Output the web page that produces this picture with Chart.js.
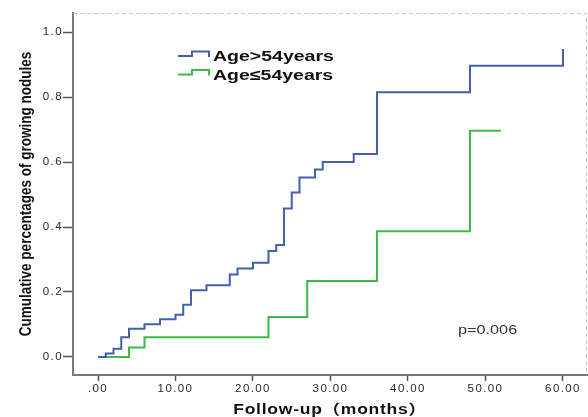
<!DOCTYPE html>
<html>
<head>
<meta charset="utf-8">
<script src="https://cdn.jsdelivr.net/npm/chart.js@4/dist/chart.umd.min.js"></script>
<style>
html,body{margin:0;padding:0;background:#fff;overflow:hidden}
#wrap{position:relative;width:588px;height:417px}
</style>
</head>
<body>
<div id="wrap"><canvas id="c" width="588" height="417"></canvas></div>
<script>
// ---- data ----
const seriesNames = ['Age>54years', 'Age\u226454years'];
const olderTimes  = [0, 1, 2, 3, 4, 6, 8, 10, 11, 12, 14, 17, 18, 20, 22, 23, 24, 25, 26, 28, 29, 33, 36, 48, 60];
const olderValues = [0, 0.011, 0.025, 0.061, 0.087, 0.101, 0.116, 0.130, 0.161, 0.205, 0.221, 0.254, 0.272, 0.290, 0.326, 0.345, 0.457, 0.506, 0.552, 0.577, 0.600, 0.625, 0.815, 0.896, 0.948];
const youngerTimes  = [0, 4, 6, 22, 27, 36, 48, 52];
const youngerValues = [0, 0.029, 0.061, 0.123, 0.234, 0.387, 0.696, 0.696];
const xTicks = [0, 10, 20, 30, 40, 50, 60];
const yTicks = [0, 0.2, 0.4, 0.6, 0.8, 1.0];
const xTitle = 'Follow-up\uFF08months\uFF09';
const yTitle = 'Cumulative percentages of growing nodules';
const pText = 'p=0.006';

const colors = ['#4160ad', '#3dba47'];
const toPoints = (ts, vs) => ts.map((t, i) => ({x: t, y: vs[i]}));
const SANS = '"Liberation Sans", Arial, "Noto Sans CJK SC", sans-serif';

function stretchedText(ctx, text, x, y, font, sx, align, color, spacing) {
  ctx.save();
  ctx.translate(x, y);
  ctx.scale(sx, 1);
  ctx.letterSpacing = spacing || '0px';
  ctx.font = font;
  ctx.fillStyle = color;
  ctx.textAlign = align;
  ctx.textBaseline = 'alphabetic';
  ctx.fillText(text, 0, 0);
  ctx.restore();
}

const decor = {
  id: 'decor',
  beforeDraw(chart) {
    chart.ctx.letterSpacing = '1.4px';
  },
  afterDraw(chart) {
    const {ctx, chartArea: a} = chart;
    ctx.save();
    ctx.letterSpacing = '0px';
    // light dashed frame on top and right
    ctx.strokeStyle = '#c9c9c9';
    ctx.lineWidth = 1;
    ctx.setLineDash([4, 3]);
    ctx.beginPath();
    ctx.moveTo(a.left, a.top + 0.5);
    ctx.lineTo(a.right - 0.5, a.top + 0.5);
    ctx.lineTo(a.right - 0.5, a.bottom);
    ctx.stroke();
    ctx.setLineDash([]);

    // y title (rotated, glyphs widened like the stretched original)
    ctx.save();
    ctx.fillStyle = '#111';
    ctx.font = 'bold 13.5px ' + SANS;
    ctx.translate(26, (a.top + a.bottom) / 2);
    ctx.rotate(-Math.PI / 2);
    ctx.scale(1, 1.25);
    ctx.textAlign = 'center';
    ctx.textBaseline = 'middle';
    ctx.fillText(yTitle, 0, 0);
    ctx.restore();

    // x title
    stretchedText(ctx, xTitle, 330, 414, 'bold 14px ' + SANS, 1.25, 'center', '#111', '0.6px');

    // legend
    const rows = [{low: 56, high: 51.5, base: 61}, {low: 74.5, high: 70, base: 79.5}];
    rows.forEach((r, i) => {
      ctx.strokeStyle = colors[i];
      ctx.lineWidth = 2;
      ctx.beginPath();
      ctx.moveTo(178, r.low);
      ctx.lineTo(192, r.low);
      ctx.lineTo(192, r.high);
      ctx.lineTo(209, r.high);
      ctx.lineTo(209, r.low + 1);
      ctx.stroke();
      stretchedText(ctx, seriesNames[i], 213, r.base, 'bold 15px ' + SANS, 1.3, 'left', '#111');
    });

    // p value
    stretchedText(ctx, pText, 458, 334, '12.5px ' + SANS, 1.3, 'left', '#333');
    ctx.restore();
  }
};

new Chart(document.getElementById('c'), {
  type: 'line',
  data: {
    datasets: [
      {label: seriesNames[0], data: toPoints(olderTimes, olderValues), borderColor: colors[0], borderWidth: 2, stepped: 'before', pointRadius: 0, fill: false},
      {label: seriesNames[1], data: toPoints(youngerTimes, youngerValues), borderColor: colors[1], borderWidth: 2, stepped: 'before', pointRadius: 0, fill: false}
    ]
  },
  options: {
    responsive: false,
    animation: false,
    devicePixelRatio: 1,
    layout: {padding: {top: 13, right: 1, left: 0, bottom: 0}},
    plugins: {legend: {display: false}, tooltip: {enabled: false}},
    scales: {
      x: {
        type: 'linear', min: -3.226, max: 63.1,
        afterBuildTicks: s => { s.ticks = xTicks.map(v => ({value: v})); },
        afterFit: s => { s.height = 42; },
        ticks: {
          callback: v => (v === 0 ? '.00' : Number(v).toFixed(2)),
          font: {family: SANS, size: 11.5},
          color: '#2a2a2a', padding: 1, maxRotation: 0, autoSkip: false
        },
        grid: {display: true, drawOnChartArea: false, drawTicks: true, tickLength: 6, tickColor: '#555', tickWidth: 1.5},
        border: {display: true, color: '#7a7a7a', width: 2, dash: [2, 1]}
      },
      y: {
        type: 'linear', min: -0.0554, max: 1.0585,
        afterBuildTicks: s => { s.ticks = yTicks.map(v => ({value: v})); },
        afterFit: s => { s.width = 73; },
        ticks: {
          callback: v => Number(v).toFixed(1),
          font: {family: SANS, size: 11.5},
          color: '#2a2a2a', padding: 0
        },
        grid: {display: true, drawOnChartArea: false, drawTicks: true, tickLength: 10, tickColor: '#555', tickWidth: 1.5},
        border: {display: true, color: '#7a7a7a', width: 2, dash: [2, 1]}
      }
    }
  },
  plugins: [decor]
});
</script>
</body>
</html>
